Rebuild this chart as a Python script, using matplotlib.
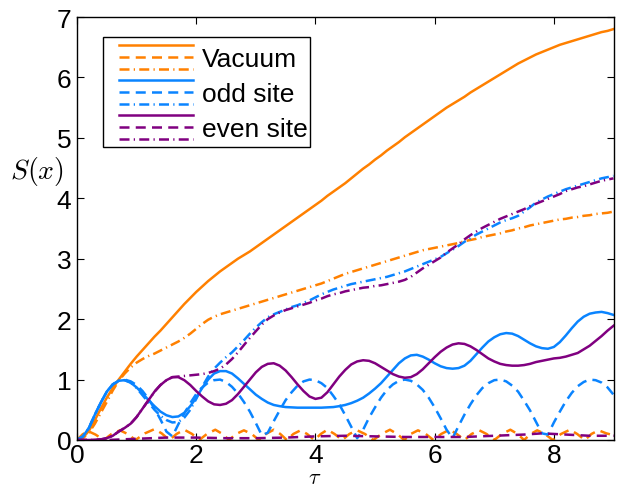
import numpy as np
import matplotlib
matplotlib.use("Agg")
import matplotlib.pyplot as plt
from matplotlib.lines import Line2D
from matplotlib.legend_handler import HandlerBase

plt.rcParams['font.family'] = ['Liberation Sans', 'DejaVu Sans']
plt.rcParams['mathtext.fontset'] = 'cm'

# ---------------- data ----------------
t = np.round(np.arange(91) * 0.1, 1)

vac_solid = [0, 0.04, 0.15, 0.33, 0.52, 0.7, 0.86, 1.0, 1.13, 1.26,
             1.38, 1.49, 1.6, 1.71, 1.81, 1.92, 2.03, 2.14, 2.25, 2.35,
             2.45, 2.54, 2.63, 2.71, 2.79, 2.86, 2.93, 3.0, 3.06, 3.12,
             3.19, 3.26, 3.33, 3.4, 3.47, 3.54, 3.61, 3.68, 3.75, 3.82,
             3.89, 3.96, 4.04, 4.11, 4.18, 4.25, 4.33, 4.41, 4.49, 4.56,
             4.64, 4.71, 4.79, 4.86, 4.93, 5.01, 5.08, 5.15, 5.22, 5.29,
             5.36, 5.43, 5.5, 5.56, 5.62, 5.68, 5.75, 5.81, 5.87, 5.93,
             5.99, 6.05, 6.11, 6.17, 6.23, 6.28, 6.33, 6.38, 6.42, 6.46,
             6.5, 6.54, 6.57, 6.6, 6.63, 6.66, 6.69, 6.72, 6.75, 6.77, 6.8]

vac_dash_t = [0, 0.09, 0.18, 0.31, 0.45, 0.58, 0.72, 0.85, 0.98, 1.14,
              1.3, 1.42, 1.55, 1.67, 1.8, 1.93, 2.05, 2.18, 2.32, 2.44,
              2.55, 2.67, 2.8, 2.93, 3.05, 3.17, 3.3, 3.41, 3.52, 3.63,
              3.75, 3.86, 3.98, 4.09, 4.2, 4.32, 4.45, 4.57, 4.7, 4.83,
              4.97, 5.11, 5.25, 5.37, 5.49, 5.6, 5.72, 5.85, 5.98, 6.11,
              6.25, 6.37, 6.5, 6.62, 6.75, 6.87, 7.0, 7.13, 7.27, 7.39,
              7.5, 7.61, 7.72, 7.85, 7.98, 8.12, 8.27, 8.39, 8.52, 8.63,
              8.75, 8.88, 9.0]
vac_dash = [0, 0.09, 0.15, 0.09, 0, 0.1, 0.16, 0.1, 0, 0.11,
            0.18, 0.11, 0, 0.1, 0.17, 0.1, 0, 0.1, 0.17, 0.1,
            0, 0.1, 0.16, 0.1, 0, 0.1, 0.17, 0.1, 0, 0.1,
            0.16, 0.1, 0, 0.1, 0.17, 0.1, 0, 0.1, 0.16, 0.1,
            0, 0.1, 0.17, 0.1, 0, 0.1, 0.16, 0.1, 0, 0.1,
            0.17, 0.1, 0, 0.1, 0.16, 0.1, 0, 0.1, 0.17, 0.1,
            0, 0.1, 0.16, 0.1, 0, 0.1, 0.17, 0.1, 0, 0.1,
            0.16, 0.11, 0.08]

vac_dashdot = [0, 0.03, 0.12, 0.27, 0.45, 0.63, 0.82, 0.98, 1.1, 1.2,
               1.28, 1.34, 1.39, 1.43, 1.48, 1.53, 1.58, 1.63, 1.69, 1.76,
               1.84, 1.92, 1.99, 2.04, 2.08, 2.11, 2.14, 2.17, 2.2, 2.23,
               2.26, 2.29, 2.32, 2.35, 2.38, 2.41, 2.44, 2.47, 2.5, 2.53,
               2.56, 2.59, 2.63, 2.67, 2.71, 2.75, 2.78, 2.81, 2.84, 2.87,
               2.9, 2.93, 2.96, 2.99, 3.02, 3.05, 3.08, 3.11, 3.14, 3.16,
               3.18, 3.2, 3.22, 3.24, 3.26, 3.29, 3.31, 3.33, 3.36, 3.38,
               3.4, 3.42, 3.45, 3.47, 3.5, 3.52, 3.55, 3.57, 3.59, 3.61,
               3.63, 3.65, 3.66, 3.68, 3.69, 3.71, 3.72, 3.74, 3.75, 3.76, 3.78]

odd_solid = [0, 0.06, 0.2, 0.42, 0.62, 0.8, 0.92, 0.98, 0.99, 0.95,
             0.87, 0.77, 0.66, 0.56, 0.47, 0.41, 0.38, 0.39, 0.45, 0.56,
             0.7, 0.86, 1.0, 1.1, 1.14, 1.14, 1.1, 1.02, 0.93, 0.84,
             0.75, 0.68, 0.62, 0.58, 0.56, 0.545, 0.54, 0.535, 0.535, 0.535,
             0.535, 0.535, 0.54, 0.545, 0.56, 0.58, 0.61, 0.65, 0.7, 0.77,
             0.85, 0.94, 1.05, 1.16, 1.27, 1.35, 1.4, 1.41, 1.38, 1.33,
             1.27, 1.22, 1.19, 1.18, 1.19, 1.23, 1.31, 1.42, 1.53, 1.63,
             1.7, 1.75, 1.77, 1.76, 1.72, 1.66, 1.6, 1.55, 1.52, 1.51,
             1.54, 1.62, 1.73, 1.85, 1.96, 2.04, 2.09, 2.11, 2.12, 2.1, 2.07]

odd_dash = [0, 0.06, 0.2, 0.42, 0.62, 0.8, 0.92, 0.98, 1.0, 0.97,
            0.91, 0.81, 0.68, 0.52, 0.34, 0.14, 0.06, 0.26, 0.44, 0.61,
            0.76, 0.87, 0.95, 0.99, 1.0, 0.96, 0.88, 0.77, 0.63, 0.47,
            0.28, 0.08, 0.12, 0.31, 0.49, 0.66, 0.79, 0.9, 0.97, 1.0,
            0.99, 0.94, 0.86, 0.73, 0.59, 0.41, 0.22, 0.03, 0.17, 0.37,
            0.54, 0.7, 0.83, 0.92, 0.98, 1.0, 0.98, 0.92, 0.83, 0.7,
            0.54, 0.36, 0.17, 0.03, 0.23, 0.42, 0.59, 0.74, 0.86, 0.94,
            0.99, 1.0, 0.97, 0.9, 0.8, 0.65, 0.49, 0.3, 0.11, 0.09,
            0.29, 0.47, 0.64, 0.78, 0.89, 0.96, 1.0, 0.99, 0.95, 0.87, 0.75]

odd_dashdot = [0, 0.06, 0.2, 0.42, 0.62, 0.8, 0.92, 0.98, 0.99, 0.95,
               0.86, 0.74, 0.62, 0.5, 0.4, 0.33, 0.29, 0.3, 0.37, 0.5,
               0.68, 0.88, 1.05, 1.18, 1.28, 1.37, 1.45, 1.55, 1.65, 1.76,
               1.86, 1.95, 2.03, 2.08, 2.12, 2.16, 2.2, 2.23, 2.27, 2.31,
               2.36, 2.41, 2.45, 2.49, 2.52, 2.55, 2.58, 2.6, 2.62, 2.64,
               2.66, 2.68, 2.7, 2.73, 2.76, 2.79, 2.83, 2.87, 2.91, 2.95,
               2.99, 3.03, 3.09, 3.15, 3.21, 3.28, 3.34, 3.4, 3.45, 3.5,
               3.55, 3.6, 3.64, 3.67, 3.71, 3.78, 3.85, 3.93, 3.98, 4.03,
               4.07, 4.11, 4.15, 4.18, 4.21, 4.24, 4.27, 4.3, 4.33, 4.35, 4.37]

even_solid = [0, 0, 0, 0.003, 0.01, 0.03, 0.07, 0.14, 0.2, 0.27,
              0.38, 0.52, 0.66, 0.8, 0.91, 0.99, 1.04, 1.04, 0.99, 0.91,
              0.81, 0.72, 0.64, 0.59, 0.58, 0.6, 0.66, 0.76, 0.88, 1.0,
              1.12, 1.21, 1.26, 1.27, 1.23, 1.15, 1.04, 0.92, 0.81, 0.72,
              0.68, 0.7, 0.79, 0.92, 1.05, 1.16, 1.25, 1.3, 1.32, 1.31,
              1.27, 1.21, 1.15, 1.09, 1.05, 1.03, 1.04, 1.09, 1.17, 1.27,
              1.37, 1.46, 1.53, 1.58, 1.6, 1.59, 1.55, 1.49, 1.42, 1.35,
              1.3, 1.26, 1.24, 1.23, 1.23, 1.24, 1.26, 1.29, 1.31, 1.33,
              1.35, 1.36, 1.38, 1.41, 1.44, 1.5, 1.56, 1.64, 1.72, 1.81, 1.89]

even_dash_t = [0, 0.5, 1.0, 1.5, 2.0, 2.5, 3.0, 3.5, 4.0, 4.5,
               5.0, 5.5, 6.0, 6.5, 7.0, 7.5, 7.8, 8.2, 8.6, 9.0]
even_dash = [0, 0.0, 0.02, 0.04, 0.04, 0.03, 0.03, 0.04, 0.06, 0.07,
             0.06, 0.05, 0.05, 0.05, 0.07, 0.09, 0.11, 0.09, 0.07, 0.07]

even_dashdot = [0, 0, 0, 0.003, 0.01, 0.03, 0.07, 0.14, 0.2, 0.27,
                0.38, 0.52, 0.66, 0.8, 0.91, 0.99, 1.04, 1.05, 1.06, 1.07,
                1.08, 1.09, 1.11, 1.14, 1.18, 1.25, 1.34, 1.45, 1.57, 1.69,
                1.8, 1.91, 2.0, 2.06, 2.11, 2.15, 2.18, 2.21, 2.24, 2.27,
                2.31, 2.34, 2.38, 2.41, 2.43, 2.46, 2.48, 2.5, 2.52, 2.53,
                2.55, 2.56, 2.58, 2.6, 2.62, 2.65, 2.7, 2.77, 2.84, 2.9,
                2.96, 3.02, 3.1, 3.17, 3.24, 3.32, 3.39, 3.45, 3.51, 3.56,
                3.61, 3.66, 3.7, 3.74, 3.78, 3.82, 3.87, 3.91, 3.95, 3.99,
                4.03, 4.07, 4.12, 4.15, 4.18, 4.2, 4.23, 4.26, 4.29, 4.31, 4.33]

labels = ["Vacuum", "odd site", "even site"]
x_ticks = [0, 2, 4, 6, 8]
y_ticks = [0, 1, 2, 3, 4, 5, 6, 7]

# ---------------- style ----------------
c_orange = "#FF8000"
c_blue = "#0A84FF"
c_purple = "#800080"
lw = 1.8
ls_solid = "-"
ls_dash = (0, (4.0, 2.5))
ls_dashdot = (0, (4.0, 1.7, 0.5, 1.7))

fig = plt.figure(figsize=(6.20, 4.89), dpi=100)
ax = fig.add_axes([77 / 620, 48 / 489, 536.5 / 620, 423 / 489])

groups = []
for col, s_sol, (dt, s_dash), s_dd in [
        (c_orange, vac_solid, (vac_dash_t, vac_dash), vac_dashdot),
        (c_blue, odd_solid, (t, odd_dash), odd_dashdot),
        (c_purple, even_solid, (even_dash_t, even_dash), even_dashdot)]:
    l1, = ax.plot(t, s_sol, color=col, lw=lw, linestyle=ls_solid)
    l2, = ax.plot(dt, s_dash, color=col, lw=lw, linestyle=ls_dash)
    l3, = ax.plot(t, s_dd, color=col, lw=lw, linestyle=ls_dashdot)
    groups.append((l1, l2, l3))


class TripleHandler(HandlerBase):
    def create_artists(self, legend, orig_handle, xdescent, ydescent,
                       width, height, fontsize, trans):
        arts = []
        n = len(orig_handle)
        off = 0.5 * fontsize
        for i, ln in enumerate(orig_handle):
            y = -ydescent + height * (1 - (i + 0.5) / n)
            a = Line2D([-xdescent + off, -xdescent + width], [y, y],
                       color=ln.get_color(), lw=ln.get_linewidth())
            pat = ln._unscaled_dash_pattern[1]
            if pat:
                a.set_dashes(pat)
            a.set_transform(trans)
            arts.append(a)
        return arts


fs_leg = 19
leg = ax.legend(groups, labels, handler_map={tuple: TripleHandler()},
                loc="upper left", bbox_to_anchor=((103 - 77) / 536.5, (441 - 38) / 423),
                borderaxespad=0, fontsize=fs_leg, handlelength=3.3, handleheight=1.66,
                labelspacing=0.0, handletextpad=0.34, borderpad=0.1,
                fancybox=False, framealpha=1, edgecolor="black")
leg.get_frame().set_linewidth(1.0)

ax.set_xlim(0, 9)
ax.set_ylim(0, 7)
ax.set_xticks(x_ticks)
ax.set_yticks(y_ticks)
ax.tick_params(direction="in", top=True, right=True, length=5, width=0.8,
               labelsize=19, pad=2)
ax.tick_params(axis="y", pad=4)
for sp in ax.spines.values():
    sp.set_linewidth(1.0)

ax.set_ylabel("$S(x)$", fontsize=20, rotation=0, ha="center", va="center")
ax.yaxis.set_label_coords((37 - 77) / 536.5, (441 - 172) / 423)
ax.set_xlabel(r"$\tau$", fontsize=16, va="center")
ax.xaxis.set_label_coords((315 - 77) / 536.5, (441 - 479) / 423)

fig.savefig("out.png", dpi=100)
